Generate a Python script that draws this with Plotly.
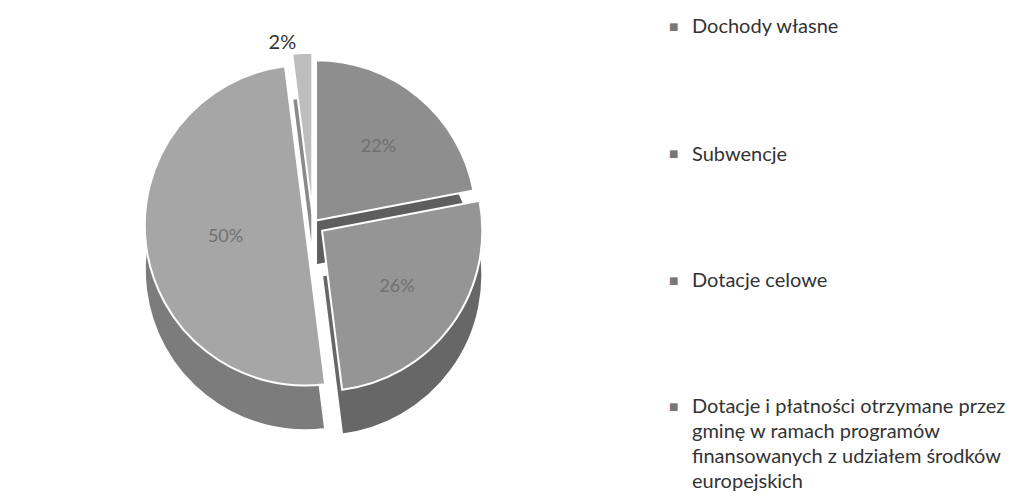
import plotly.graph_objects as go

categories = [
    "Dochody własne",
    "Subwencje",
    "Dotacje celowe",
    "Dotacje i płatności otrzymane przez gminę w ramach programów finansowanych z udziałem środków europejskich",
]
legend_lines = [
    ["Dochody własne"],
    ["Subwencje"],
    ["Dotacje celowe"],
    ["Dotacje i płatności otrzymane przez", "gminę w ramach programów",
     "finansowanych z udziałem środków", "europejskich"],
]
values = [22, 26, 50, 2]

top_colors = ["#8e8e8e", "#959595", "#a6a6a6", "#bdbdbd"]
side_colors = ["#5e5e5e", "#676767", "#7c7c7c", "#8a8a8a"]
pulls = [0.03, 0.07, 0.05, 0.07]

W, H = 1020, 497

fig = go.Figure()

# depth (side walls) – same data, darker, shifted down
fig.add_trace(go.Pie(
    labels=categories, values=values, sort=False, direction="clockwise",
    rotation=0, pull=pulls, automargin=False,
    marker=dict(colors=side_colors, line=dict(color="white", width=2)),
    textinfo="none", hoverinfo="skip", showlegend=False,
    domain=dict(x=[0.13, 0.468], y=[0.13, 0.82]),
))

# top faces
fig.add_trace(go.Pie(
    labels=categories, values=values, sort=False, direction="clockwise",
    rotation=0, pull=pulls, automargin=False,
    marker=dict(colors=top_colors, line=dict(color="white", width=2)),
    texttemplate="%{percent:.0%}",
    textposition=["inside", "inside", "inside", "outside"],
    insidetextfont=dict(color="#707070", size=18, family="Lato"),
    outsidetextfont=dict(color="#333333", size=20, family="Lato"),
    showlegend=False,
    domain=dict(x=[0.13, 0.468], y=[0.22, 0.91]),
))

first_line_px = [17, 145, 271, 397]
line_gap_px = 25
annotations = []
for lines, y0 in zip(legend_lines, first_line_px):
    annotations.append(dict(
        x=665 / W, y=1 - (y0 + 1) / H, xref="paper", yref="paper",
        xanchor="center", yanchor="middle", text="■", showarrow=False,
        font=dict(family="DejaVu Sans", size=10, color="#777777"),
    ))
    for i, line in enumerate(lines):
        annotations.append(dict(
            x=682 / W, y=1 - (y0 + i * line_gap_px) / H, xref="paper", yref="paper",
            xanchor="left", yanchor="middle", text=line, showarrow=False,
            font=dict(family="Lato", size=20, color="#333333"),
        ))

fig.update_layout(
    width=W, height=H,
    margin=dict(l=0, r=0, t=0, b=0, autoexpand=False),
    paper_bgcolor="white", plot_bgcolor="white",
    showlegend=False,
    annotations=annotations,
)

fig.write_html("out.html")
